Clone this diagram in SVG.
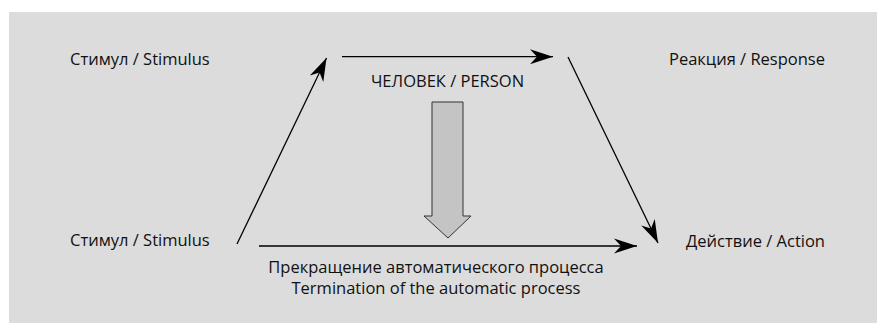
<svg xmlns="http://www.w3.org/2000/svg" width="877" height="323" viewBox="0 0 877 323">
<style>
  .lbl { font-family: "Open Sans", "Noto Sans", "DejaVu Sans", sans-serif; font-size: 16.5px; fill: #111; }
  .conn { stroke: #000; stroke-width: 1.3; fill: none; }
</style>
<defs>
  <marker id="ah" markerUnits="userSpaceOnUse" markerWidth="30" markerHeight="20" viewBox="-24 -10 26 20" refX="0" refY="0" orient="auto">
    <path d="M0,0 L-23,-7.5 L-16,0 L-23,7.5 Z" fill="#000"/>
  </marker>
</defs>
<rect x="9" y="12" width="868" height="311" fill="#dcdcdc"/>
<g id="stimulus-top"><text class="lbl" x="70" y="65">Стимул / Stimulus</text></g>
<g id="stimulus-bottom"><text class="lbl" x="70" y="246">Стимул / Stimulus</text></g>
<g id="response"><text class="lbl" x="825" y="65" text-anchor="end">Реакция / Response</text></g>
<g id="action"><text class="lbl" x="825" y="247" text-anchor="end">Действие / Action</text></g>
<g id="person"><text class="lbl" x="447.5" y="87" text-anchor="middle">ЧЕЛОВЕК / PERSON</text></g>
<g id="termination">
  <text class="lbl" x="436" y="273" text-anchor="middle">Прекращение автоматического процесса</text>
  <text class="lbl" x="436" y="294" text-anchor="middle">Termination of the automatic process</text>
</g>
<g id="block-arrow">
  <path d="M432,102 L463,102 L463,216 L471,216 L448,238 L424,216 L432,216 Z" fill="#c4c4c4" stroke="#333" stroke-width="1"/>
</g>
<g id="connectors">
  <line class="conn" x1="237" y1="244" x2="326.5" y2="58" marker-end="url(#ah)"/>
  <line class="conn" x1="342" y1="56.7" x2="553" y2="56.7" marker-end="url(#ah)"/>
  <line class="conn" x1="568" y1="57" x2="658" y2="243" marker-end="url(#ah)"/>
  <line class="conn" x1="259" y1="246" x2="637" y2="246" marker-end="url(#ah)"/>
</g>
</svg>
